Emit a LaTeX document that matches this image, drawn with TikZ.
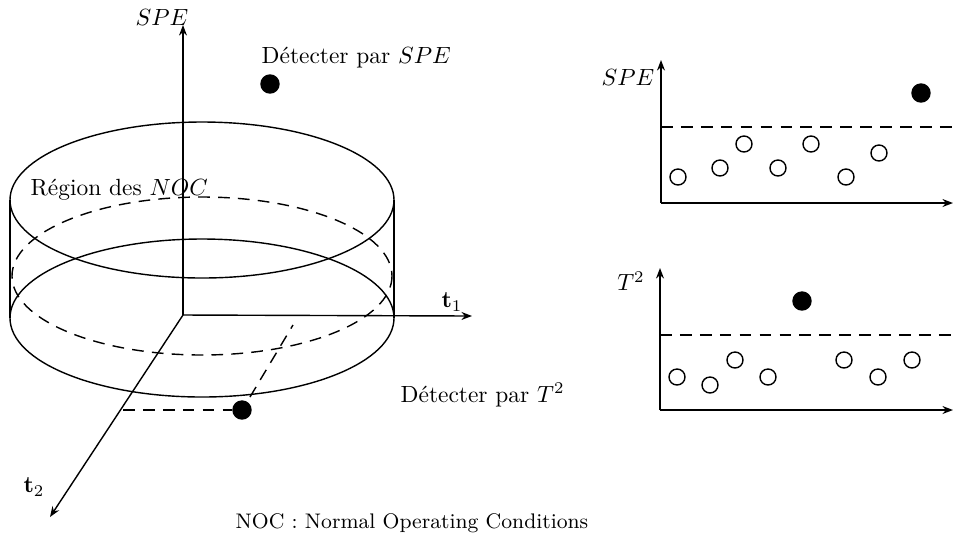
\documentclass[tikz,border=0pt]{standalone}
\usetikzlibrary{positioning, arrows.meta}
\begin{document}
\begin{tikzpicture}[x=0.015cm, y=-0.015cm, >={Stealth[length=4.5pt, width=3.4pt]}, line width=0.6pt,
    every node/.style={inner sep=0pt},
    pt/.style={circle, draw, minimum size=16*0.015cm},
    hit/.style={pt, fill=black, minimum size=18*0.015cm},
    limit/.style={dashed, dash pattern=on 5pt off 3.5pt}]
    \useasboundingbox (0,0) rectangle (954,538);

    % 3D axes
    \coordinate (o) at (183, 315);
    \coordinate (speTip) at (183, 25);
    \coordinate (t1Tip) at (472, 316);
    \coordinate (t2Tip) at (50, 517);
    \draw[->] (o) -- (speTip);
    \draw[->] (o) -- (t1Tip);
    \draw[->] (o) -- (t2Tip);
    \node (speLbl) at (162, 17) {$SPE$};
    \node (t1Lbl) at (452, 302) {$\mathbf{t}_1$};
    \node (t2Lbl) at (34, 487) {$\mathbf{t}_2$};

    % cylinder
    \draw (202, 200) ellipse (192 and 78);
    \draw[limit] (202, 276) ellipse (190 and 79);
    \draw (202, 318) ellipse (192 and 79);
    \draw (10, 200) -- (10, 318);
    \draw (394, 200) -- (394, 318);
    \node[anchor=base west] (noc) at (30, 195) {R\'egion des $NOC$};

    % detected points
    \node[hit] (pSpe) at (270, 84) {};
    \node[anchor=base west] (pSpeLbl) at (261, 63) {D\'etecter par $SPE$};
    \node[hit] (pT) at (242, 410) {};
    \node[anchor=base west] (pTLbl) at (400, 402) {D\'etecter par $T^2$};
    \coordinate (projT2) at (123, 410);
    \coordinate (projLow) at (250, 397);
    \coordinate (projT1) at (293, 325);
    \draw[limit] (projT2) -- (pT);
    \draw[limit] (projLow) -- (projT1);

    % SPE chart
    \coordinate (a1) at (661, 203);
    \draw[->] (a1) -- (661, 60);
    \draw[->] (a1) -- (953, 203);
    \node (a1Lbl) at (628, 77) {$SPE$};
    \draw[limit] (661, 127) -- (954, 127);
    \foreach \x/\y in {678/177, 720/168, 744/144, 778/168, 811/144, 846/177, 879/153}
        \node[pt] at (\x, \y) {};
    \node[hit] (a1Out) at (921, 93) {};

    % T2 chart
    \coordinate (a2) at (660, 410);
    \draw[->] (a2) -- (660, 268);
    \draw[->] (a2) -- (953, 410);
    \node (a2Lbl) at (631, 281) {$T^2$};
    \draw[limit] (660, 335) -- (954, 335);
    \foreach \x/\y in {677/377, 710/385, 735/360, 768/377, 844/360, 878/377, 912/360}
        \node[pt] at (\x, \y) {};
    \node[hit] (a2Out) at (802, 301) {};

    \node[anchor=base west, font=\fontsize{9}{11}\selectfont] (legend) at (235, 528) {NOC : Normal Operating Conditions};
\end{tikzpicture}
\end{document}
